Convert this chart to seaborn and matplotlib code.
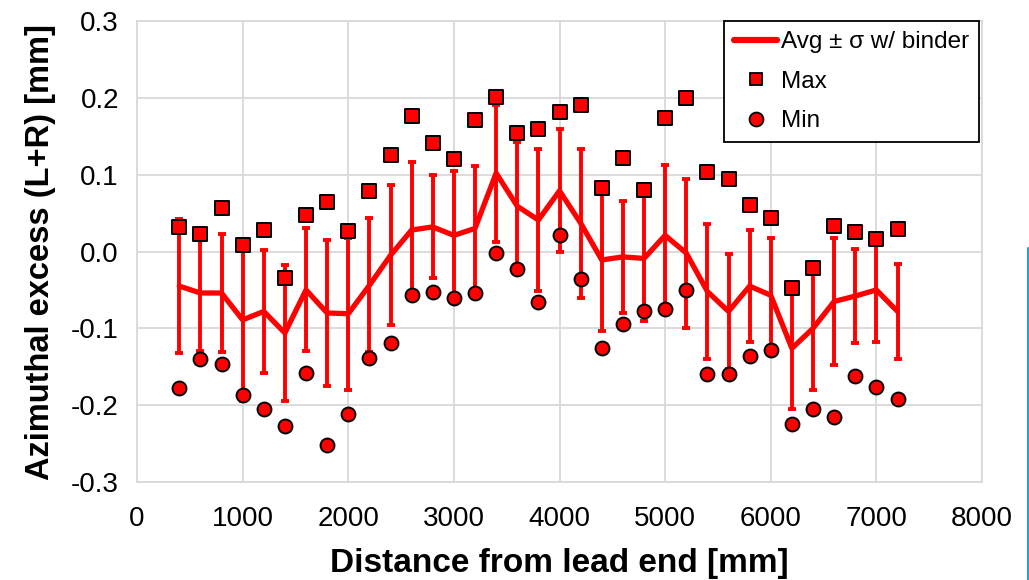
import numpy as np
import pandas as pd
import matplotlib
matplotlib.use("Agg")
import matplotlib.pyplot as plt
import seaborn as sns
from matplotlib.lines import Line2D

distance = [400, 600, 800, 1000, 1200, 1400, 1600, 1800, 2000, 2200, 2400, 2600,
            2800, 3000, 3200, 3400, 3600, 3800, 4000, 4200, 4400, 4600, 4800, 5000,
            5200, 5400, 5600, 5800, 6000, 6200, 6400, 6600, 6800, 7000, 7200]
avg = [-0.045, -0.054, -0.054, -0.089, -0.078, -0.106, -0.050, -0.080, -0.081, -0.044,
       -0.005, 0.028, 0.032, 0.021, 0.030, 0.102, 0.059, 0.041, 0.079, 0.037,
       -0.011, -0.007, -0.009, 0.021, -0.002, -0.052, -0.078, -0.045, -0.057, -0.126,
       -0.100, -0.065, -0.058, -0.050, -0.078]
sigma = [0.087, 0.075, 0.077, 0.105, 0.080, 0.088, 0.080, 0.095, 0.099, 0.087,
         0.091, 0.088, 0.067, 0.084, 0.081, 0.089, 0.083, 0.092, 0.080, 0.097,
         0.093, 0.073, 0.082, 0.092, 0.097, 0.088, 0.075, 0.073, 0.074, 0.079,
         0.080, 0.083, 0.061, 0.068, 0.062]
max_vals = [0.032, 0.023, 0.057, 0.009, 0.028, -0.034, 0.047, 0.064, 0.027, 0.079,
            0.126, 0.176, 0.141, 0.120, 0.171, 0.201, 0.154, 0.159, 0.182, 0.191,
            0.082, 0.122, 0.080, 0.174, 0.200, 0.103, 0.094, 0.060, 0.044, -0.048,
            -0.022, 0.033, 0.025, 0.016, 0.029]
min_vals = [-0.178, -0.140, -0.146, -0.187, -0.205, -0.227, -0.158, -0.252, -0.211, -0.138,
            -0.119, -0.057, -0.053, -0.060, -0.054, -0.002, -0.023, -0.066, 0.022, -0.036,
            -0.126, -0.094, -0.078, -0.075, -0.050, -0.159, -0.159, -0.136, -0.128, -0.224,
            -0.205, -0.216, -0.162, -0.177, -0.192]

x_ticks = [0, 1000, 2000, 3000, 4000, 5000, 6000, 7000, 8000]
y_ticks = [-0.3, -0.2, -0.1, 0.0, 0.1, 0.2, 0.3]

df = pd.DataFrame({"distance": distance, "avg": avg, "sigma": sigma,
                   "max": max_vals, "min": min_vals})

sns.set_style("whitegrid")
plt.rcParams["font.family"] = ["Liberation Sans", "DejaVu Sans"]
plt.rcParams["text.color"] = "black"
plt.rcParams["axes.labelcolor"] = "black"
plt.rcParams["xtick.color"] = "black"
plt.rcParams["ytick.color"] = "black"

fig = plt.figure(figsize=(10.29, 5.80), dpi=100)
ax = fig.add_axes([137/1029, 1-482/580, (982-137)/1029, (482-21)/580])

red = "#ff0000"
ax.errorbar(df["distance"], df["avg"], yerr=df["sigma"], fmt="none",
            ecolor=red, elinewidth=2.8, capsize=3.2, capthick=2.8, zorder=2)
sns.lineplot(data=df, x="distance", y="avg", ax=ax, color=red, linewidth=3.8,
             zorder=3, legend=False)
sns.scatterplot(data=df, x="distance", y="max", ax=ax, marker="s", s=88,
                color=red, edgecolor="black", linewidth=1.4, zorder=4, legend=False)
sns.scatterplot(data=df, x="distance", y="min", ax=ax, marker="o", s=100,
                color=red, edgecolor="black", linewidth=1.4, zorder=4, legend=False)

ax.set_xlim(0, 8000)
ax.set_ylim(-0.3, 0.3)
ax.set_xticks(x_ticks)
ax.set_yticks(y_ticks)
ax.set_xticklabels([str(t) for t in x_ticks])
ax.set_yticklabels([f"{t:.1f}" for t in y_ticks])
ax.tick_params(axis="x", labelsize=20, length=0, colors="black", pad=17)
ax.tick_params(axis="y", labelsize=20, length=0, colors="black", pad=13)
ax.grid(True, color="#d9d9d9", linewidth=1.3)
for s in ax.spines.values():
    s.set_color("#d9d9d9")
    s.set_linewidth(1.3)

ax.set_xlabel("Distance from lead end [mm]", fontsize=24, fontweight="bold",
              labelpad=12, color="black")
ax.set_ylabel("Azimuthal excess (L+R) [mm]", fontsize=23.5, fontweight="bold",
              labelpad=11, color="black")

handles = [
    Line2D([0], [0], color=red, linewidth=4.5),
    Line2D([0], [0], color=red, marker="s", linestyle="none", markersize=9,
           markeredgecolor="black", markeredgewidth=1.3),
    Line2D([0], [0], color=red, marker="o", linestyle="none", markersize=10,
           markeredgecolor="black", markeredgewidth=1.3),
]
leg = ax.legend(handles, ["Avg ± σ w/ binder", "Max", "Min"], loc="upper right",
                bbox_to_anchor=(1 - 3/845, 1 - 0/461), fontsize=17.5, frameon=True,
                fancybox=False, edgecolor="black", framealpha=1, handlelength=1.75,
                handletextpad=0.15, borderpad=0.42, labelspacing=0.72, borderaxespad=0)
leg.get_frame().set_linewidth(1.3)
for t in leg.get_texts():
    t.set_color("black")

fig.add_artist(Line2D([1028/1029, 1028/1029], [0, 1-248/580], color="#2a9fd6",
                      linewidth=1.5, transform=fig.transFigure))

fig.savefig("out.png", dpi=100)
